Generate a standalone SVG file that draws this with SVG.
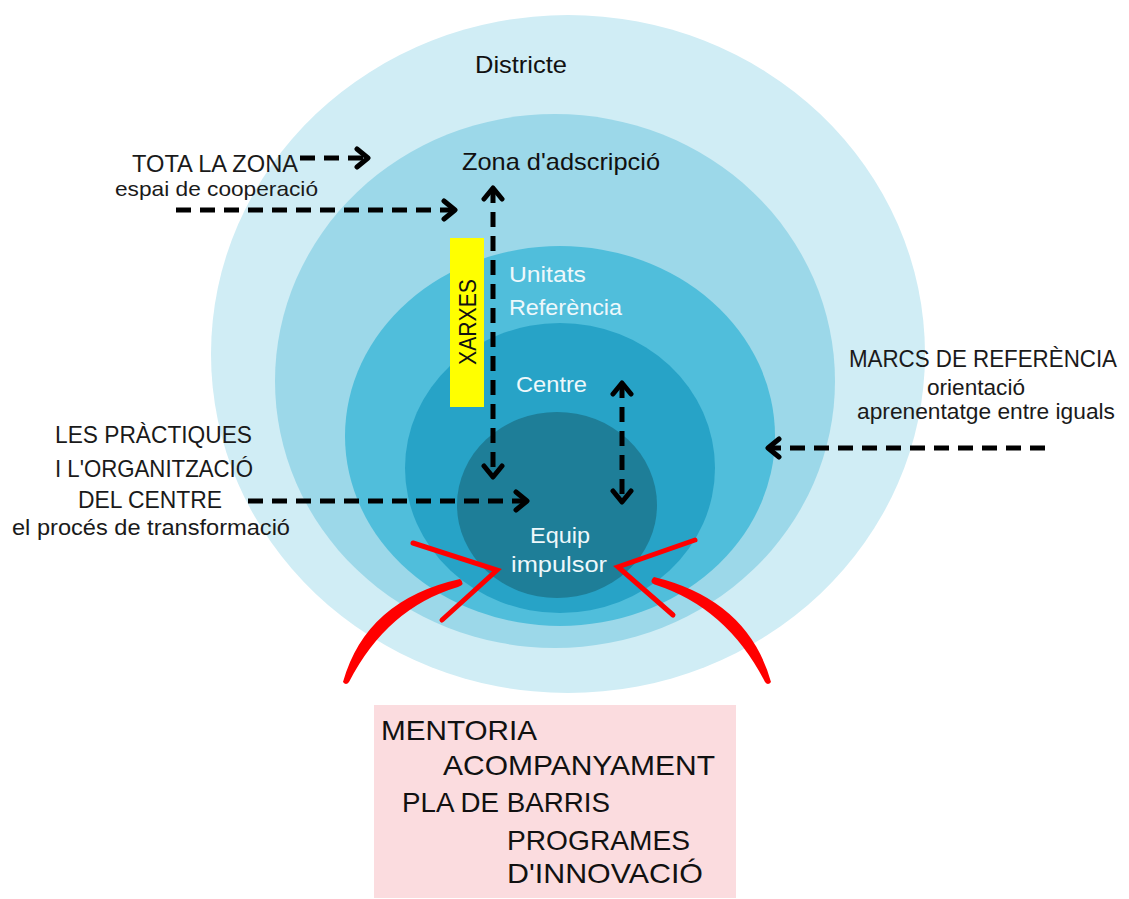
<svg xmlns="http://www.w3.org/2000/svg" width="1129" height="899" viewBox="0 0 1129 899">
<style>
.lbl{font-family:"Liberation Sans",Arial,sans-serif;fill:#111}
.wht{font-family:"Liberation Sans",Arial,sans-serif;fill:#eef8fb}
.hand{font-family:"Liberation Sans Narrow","Liberation Sans",Arial,sans-serif;fill:#1a1a1a}
.dash{fill:none;stroke:#000;stroke-width:5;stroke-dasharray:15 9}
.red{fill:#ff0000}
.redl{fill:none;stroke:#ff0000;stroke-width:5;stroke-linecap:round;stroke-linejoin:miter}
</style>
<defs>
<marker id="chev" markerUnits="userSpaceOnUse" markerWidth="20" markerHeight="24" viewBox="0 0 20 24" refX="15" refY="12" orient="auto-start-reverse">
<path d="M4,3 L15,12 L4,21" fill="none" stroke="#000" stroke-width="5" stroke-linecap="round" stroke-linejoin="round"/>
</marker>
</defs>
<rect width="1129" height="899" fill="#ffffff"/>
<g id="districte">
<ellipse cx="568" cy="354" rx="357" ry="339" fill="#d0edf5"/>
<text class="lbl" x="475" y="73" font-size="24" textLength="92" lengthAdjust="spacingAndGlyphs">Districte</text>
</g>
<g id="zona">
<ellipse cx="555" cy="381" rx="280" ry="267" fill="#9cd8e9"/>
<text class="lbl" x="462" y="170" font-size="24" textLength="198" lengthAdjust="spacingAndGlyphs">Zona d'adscripció</text>
</g>
<g id="unitats">
<ellipse cx="560" cy="436" rx="215" ry="190" fill="#50bedb"/>
<text class="wht" x="509" y="282" font-size="22" textLength="77" lengthAdjust="spacingAndGlyphs">Unitats</text>
<text class="wht" x="509" y="315" font-size="22" textLength="113" lengthAdjust="spacingAndGlyphs">Referència</text>
</g>
<g id="centre">
<ellipse cx="560" cy="468" rx="155" ry="145" fill="#27a3c7"/>
<text class="wht" x="516" y="392" font-size="22" textLength="71" lengthAdjust="spacingAndGlyphs">Centre</text>
</g>
<g id="equip">
<ellipse cx="557" cy="505" rx="100" ry="93" fill="#1e7e98"/>
<text class="wht" x="530" y="543" font-size="22" textLength="60" lengthAdjust="spacingAndGlyphs">Equip</text>
<text class="wht" x="511" y="572" font-size="22" textLength="96" lengthAdjust="spacingAndGlyphs">impulsor</text>
</g>
<g id="xarxes">
<rect x="450" y="238" width="34" height="169" fill="#ffff00"/>
<text class="lbl" x="0" y="0" font-size="24" text-anchor="middle" transform="translate(476,322) rotate(-90)" textLength="86" lengthAdjust="spacingAndGlyphs">XARXES</text>
</g>
<g id="tota-la-zona">
<text class="hand" x="132" y="172" font-size="23" textLength="166" lengthAdjust="spacingAndGlyphs">TOTA LA ZONA</text>
<text class="hand" x="115" y="196" font-size="21" textLength="203" lengthAdjust="spacingAndGlyphs">espai de cooperació</text>
</g>
<g id="practiques">
<text class="hand" x="55" y="443" font-size="24" textLength="197" lengthAdjust="spacingAndGlyphs">LES PRÀCTIQUES</text>
<text class="hand" x="55" y="477" font-size="24" textLength="198" lengthAdjust="spacingAndGlyphs">I L'ORGANITZACIÓ</text>
<text class="hand" x="78" y="508" font-size="24" textLength="144" lengthAdjust="spacingAndGlyphs">DEL CENTRE</text>
<text class="hand" x="12" y="535" font-size="22" textLength="278" lengthAdjust="spacingAndGlyphs">el procés de transformació</text>
</g>
<g id="marcs">
<text class="hand" x="849" y="367" font-size="24" textLength="268" lengthAdjust="spacingAndGlyphs">MARCS DE REFERÈNCIA</text>
<text class="hand" x="927" y="395" font-size="22" textLength="98" lengthAdjust="spacingAndGlyphs">orientació</text>
<text class="hand" x="857" y="419" font-size="22" textLength="258" lengthAdjust="spacingAndGlyphs">aprenentatge entre iguals</text>
</g>
<g id="connectors">
<path class="dash" d="M300,158 L368,158" marker-end="url(#chev)"/>
<path class="dash" d="M176,210 L455,210" marker-end="url(#chev)"/>
<path class="dash" d="M493,188 L493,477" marker-start="url(#chev)" marker-end="url(#chev)"/>
<path class="dash" d="M622,383 L622,502" marker-start="url(#chev)" marker-end="url(#chev)"/>
<path class="dash" d="M248,501 L527,501" marker-end="url(#chev)"/>
<path class="dash" d="M1045,448 L768,448" marker-end="url(#chev)"/>
</g>
<g id="red-arrows">
<path class="red" d="M343,682 Q366,600 460,579 Q466,584 458,587 Q387,608 349,682 Q346,686 343,682 Z"/>
<path class="red" d="M771,682 Q748,600 654,577 Q648,582 656,585 Q727,608 765,682 Q768,686 771,682 Z"/>
<path class="redl" d="M413,543 L497,570 L442,620"/>
<path class="redl" d="M695,540 L618,567 L673,615"/>
</g>
<g id="supports">
<rect x="374" y="705" width="362" height="193" fill="#fbdcdf"/>
<text class="lbl" x="381" y="740" font-size="28" textLength="156" lengthAdjust="spacingAndGlyphs">MENTORIA</text>
<text class="lbl" x="443" y="775" font-size="28" textLength="272" lengthAdjust="spacingAndGlyphs">ACOMPANYAMENT</text>
<text class="lbl" x="402" y="812" font-size="28" textLength="208" lengthAdjust="spacingAndGlyphs">PLA DE BARRIS</text>
<text class="lbl" x="507" y="850" font-size="28" textLength="183" lengthAdjust="spacingAndGlyphs">PROGRAMES</text>
<text class="lbl" x="507" y="883" font-size="28" textLength="196" lengthAdjust="spacingAndGlyphs">D'INNOVACIÓ</text>
</g>
</svg>
